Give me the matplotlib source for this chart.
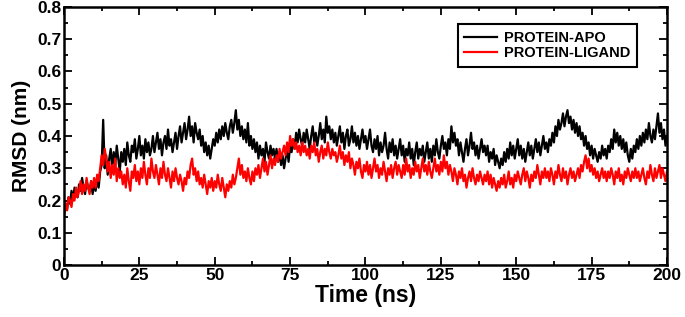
import numpy as np
import matplotlib
matplotlib.use("Agg")
import matplotlib.pyplot as plt
from matplotlib.ticker import MultipleLocator, FuncFormatter

plt.rcParams['font.family'] = ['Liberation Sans', 'DejaVu Sans']

# RMSD values (nm), sampled every 0.5 ns from 0 to 200 ns
apo = [
    0.15,0.19,0.17,0.21,0.19,0.23,0.20,0.24,0.22,0.21,0.25,0.23,0.27,0.24,0.22,0.26,0.24,0.23,0.26,0.22,
    0.25,0.23,0.27,0.24,0.29,0.31,0.45,0.30,0.34,0.28,0.33,0.36,0.30,0.35,0.31,0.37,0.33,0.29,0.35,0.32,
    0.36,0.31,0.38,0.34,0.32,0.37,0.35,0.39,0.33,0.36,0.40,0.34,0.37,0.33,0.39,0.35,0.38,0.34,0.36,0.40,
    0.35,0.38,0.41,0.36,0.39,0.34,0.38,0.40,0.36,0.42,0.37,0.39,0.35,0.38,0.41,0.36,0.40,0.43,0.38,0.41,
    0.44,0.39,0.42,0.46,0.40,0.43,0.38,0.44,0.41,0.39,0.42,0.37,0.40,0.35,0.38,0.34,0.37,0.33,0.36,0.39,
    0.37,0.41,0.38,0.42,0.39,0.43,0.40,0.44,0.41,0.39,0.43,0.45,0.41,0.44,0.48,0.42,0.45,0.40,0.43,0.39,
    0.42,0.38,0.44,0.37,0.40,0.36,0.39,0.35,0.38,0.33,0.37,0.34,0.36,0.32,0.38,0.35,0.33,0.37,0.34,0.36,
    0.33,0.36,0.32,0.35,0.31,0.34,0.30,0.33,0.36,0.32,0.37,0.35,0.39,0.36,0.41,0.38,0.42,0.39,0.37,0.41,
    0.38,0.42,0.39,0.36,0.40,0.43,0.38,0.41,0.37,0.40,0.44,0.39,0.42,0.38,0.46,0.41,0.43,0.39,0.42,0.38,
    0.41,0.37,0.40,0.43,0.38,0.41,0.36,0.40,0.42,0.37,0.39,0.43,0.38,0.41,0.37,0.40,0.36,0.39,0.42,0.38,
    0.40,0.36,0.39,0.42,0.37,0.35,0.39,0.36,0.40,0.34,0.38,0.35,0.37,0.41,0.36,0.33,0.38,0.35,0.39,0.34,
    0.37,0.33,0.36,0.39,0.34,0.37,0.32,0.36,0.34,0.38,0.33,0.36,0.31,0.35,0.38,0.33,0.36,0.34,0.37,0.32,
    0.35,0.38,0.33,0.36,0.32,0.37,0.34,0.39,0.35,0.33,0.37,0.40,0.36,0.38,0.34,0.39,0.36,0.43,0.38,0.41,
    0.37,0.39,0.34,0.38,0.35,0.32,0.36,0.39,0.34,0.37,0.41,0.36,0.38,0.34,0.37,0.33,0.36,0.39,0.35,0.37,
    0.34,0.37,0.32,0.35,0.33,0.36,0.31,0.34,0.32,0.30,0.33,0.31,0.35,0.32,0.36,0.33,0.38,0.34,0.37,0.33,
    0.36,0.39,0.34,0.37,0.33,0.36,0.32,0.35,0.38,0.34,0.37,0.33,0.36,0.39,0.35,0.38,0.34,0.37,0.40,0.36,
    0.38,0.35,0.39,0.37,0.41,0.38,0.43,0.40,0.45,0.42,0.44,0.47,0.43,0.46,0.48,0.44,0.46,0.42,0.45,0.41,
    0.44,0.40,0.43,0.39,0.41,0.37,0.40,0.36,0.38,0.34,0.37,0.33,0.36,0.34,0.32,0.35,0.33,0.37,0.34,0.36,
    0.33,0.37,0.35,0.39,0.36,0.42,0.38,0.41,0.37,0.40,0.36,0.39,0.35,0.38,0.34,0.32,0.36,0.33,0.37,0.35,
    0.39,0.36,0.40,0.37,0.41,0.38,0.42,0.39,0.44,0.40,0.38,0.42,0.39,0.43,0.47,0.41,0.44,0.39,0.42,0.37,0.40,
]

ligand = [
    0.16,0.19,0.17,0.21,0.20,0.18,0.22,0.20,0.24,0.21,0.23,0.26,0.22,0.25,0.23,0.27,0.24,0.22,0.26,0.24,
    0.27,0.24,0.28,0.26,0.30,0.34,0.31,0.36,0.33,0.29,0.32,0.27,0.31,0.28,0.33,0.26,0.30,0.27,0.29,0.25,
    0.28,0.24,0.30,0.26,0.23,0.29,0.27,0.31,0.26,0.29,0.25,0.30,0.27,0.32,0.28,0.25,0.30,0.27,0.33,0.29,
    0.27,0.31,0.28,0.25,0.30,0.27,0.32,0.28,0.26,0.30,0.27,0.24,0.29,0.26,0.30,0.27,0.25,0.28,0.26,0.23,
    0.27,0.25,0.29,0.27,0.31,0.33,0.28,0.30,0.26,0.29,0.25,0.27,0.24,0.28,0.25,0.22,0.26,0.24,0.27,0.23,
    0.26,0.24,0.28,0.25,0.23,0.27,0.24,0.21,0.25,0.23,0.26,0.24,0.28,0.25,0.27,0.30,0.33,0.28,0.31,0.27,
    0.29,0.26,0.30,0.27,0.25,0.29,0.26,0.30,0.28,0.31,0.27,0.30,0.33,0.29,0.32,0.28,0.31,0.34,0.30,0.33,
    0.31,0.34,0.32,0.36,0.33,0.35,0.37,0.34,0.38,0.35,0.40,0.37,0.39,0.36,0.38,0.35,0.37,0.34,0.38,0.35,
    0.37,0.34,0.36,0.33,0.37,0.35,0.38,0.34,0.36,0.32,0.35,0.37,0.33,0.36,0.34,0.38,0.35,0.33,0.36,0.34,
    0.35,0.32,0.34,0.37,0.33,0.35,0.31,0.34,0.32,0.35,0.30,0.33,0.31,0.28,0.32,0.30,0.33,0.29,0.27,0.31,
    0.29,0.32,0.28,0.31,0.27,0.30,0.33,0.29,0.31,0.27,0.30,0.28,0.32,0.29,0.26,0.30,0.28,0.31,0.27,0.30,
    0.32,0.28,0.31,0.29,0.27,0.31,0.28,0.33,0.29,0.31,0.27,0.30,0.28,0.32,0.29,0.31,0.27,0.30,0.33,0.29,
    0.31,0.28,0.32,0.29,0.27,0.30,0.33,0.29,0.31,0.28,0.32,0.29,0.34,0.30,0.32,0.28,0.31,0.29,0.26,0.30,
    0.28,0.25,0.29,0.27,0.30,0.26,0.28,0.24,0.27,0.29,0.26,0.30,0.27,0.25,0.28,0.26,0.29,0.27,0.25,0.28,
    0.26,0.29,0.25,0.28,0.24,0.27,0.25,0.23,0.26,0.24,0.27,0.25,0.28,0.24,0.26,0.29,0.25,0.27,0.24,0.28,
    0.26,0.29,0.27,0.25,0.28,0.30,0.26,0.29,0.27,0.24,0.28,0.26,0.29,0.27,0.31,0.28,0.25,0.29,0.27,0.30,
    0.27,0.29,0.26,0.30,0.28,0.25,0.29,0.27,0.31,0.28,0.26,0.30,0.27,0.29,0.25,0.28,0.30,0.27,0.29,0.26,
    0.28,0.30,0.27,0.31,0.29,0.32,0.34,0.30,0.33,0.29,0.31,0.28,0.30,0.27,0.29,0.26,0.28,0.30,0.27,0.29,
    0.26,0.29,0.27,0.30,0.28,0.25,0.29,0.27,0.30,0.26,0.28,0.25,0.29,0.27,0.30,0.28,0.26,0.29,0.27,0.30,
    0.27,0.29,0.26,0.28,0.30,0.27,0.25,0.29,0.27,0.31,0.28,0.26,0.30,0.27,0.29,0.31,0.27,0.30,0.28,0.26,0.29,
]

t_start, t_end = 0, 200
xticks = [0, 25, 50, 75, 100, 125, 150, 175, 200]
yticks = [0, 0.1, 0.2, 0.3, 0.4, 0.5, 0.6, 0.7, 0.8]
labels = ["PROTEIN-APO", "PROTEIN-LIGAND"]

time_apo = np.linspace(t_start, t_end, len(apo))
time_lig = np.linspace(t_start, t_end, len(ligand))

fig = plt.figure(figsize=(6.85, 3.17), dpi=100)
ax = fig.add_axes([0.0934, 0.164, 0.9737 - 0.0934, 0.978 - 0.164])

ax.plot(time_apo, apo, color='black', lw=1.6, label=labels[0])
ax.plot(time_lig, ligand, color='#ff0000', lw=1.6, label=labels[1])

ax.set_xlim(t_start, t_end)
ax.set_ylim(0, 0.8)
ax.set_xticks(xticks)
ax.set_yticks(yticks)
ax.xaxis.set_minor_locator(MultipleLocator(12.5))
ax.yaxis.set_minor_locator(MultipleLocator(0.05))

def fmt_y(v, pos):
    return "0" if abs(v) < 1e-9 else f"{v:.1f}"
ax.yaxis.set_major_formatter(FuncFormatter(fmt_y))

ax.tick_params(which='both', direction='in', top=True, right=True, width=1.3)
ax.tick_params(which='major', length=6, labelsize=12.5, pad=2)
ax.tick_params(which='minor', length=3)
for lab in ax.get_xticklabels() + ax.get_yticklabels():
    lab.set_fontweight('bold')
for sp in ax.spines.values():
    sp.set_linewidth(1.8)

ax.set_xlabel("Time (ns)", fontsize=16.5, fontweight='bold', labelpad=1)
ax.set_ylabel("RMSD (nm)", fontsize=15, fontweight='bold', labelpad=4)

leg = ax.legend(loc='upper right', bbox_to_anchor=(0.962, 0.962), fancybox=False,
                edgecolor='black', framealpha=1, handlelength=2.2, handletextpad=0.5,
                borderpad=0.45, labelspacing=0.12, prop={'weight': 'bold', 'size': 10.5})
leg.get_frame().set_linewidth(1.5)

fig.savefig("out.png", dpi=100)
